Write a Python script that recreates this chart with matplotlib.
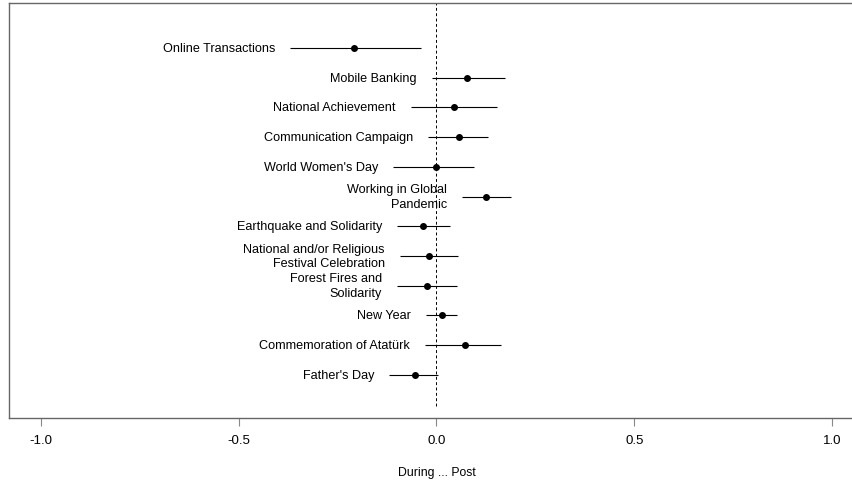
import matplotlib
matplotlib.use("Agg")
import matplotlib.pyplot as plt

plt.rcParams['font.family'] = ['Liberation Sans', 'DejaVu Sans']

# Estimates and 95% intervals, top row first
labels = [
    "Online Transactions",
    "Mobile Banking",
    "National Achievement",
    "Communication Campaign",
    "World Women's Day",
    "Working in Global\nPandemic",
    "Earthquake and Solidarity",
    "National and/or Religious\nFestival Celebration",
    "Forest Fires and\nSolidarity",
    "New Year",
    "Commemoration of Atatürk",
    "Father's Day",
]
estimate = [-0.208, 0.077, 0.043, 0.056, -0.002, 0.126, -0.033, -0.018, -0.023, 0.014, 0.071, -0.054]
lower = [-0.369, -0.012, -0.065, -0.022, -0.110, 0.064, -0.100, -0.093, -0.100, -0.026, -0.029, -0.119]
upper = [-0.039, 0.173, 0.152, 0.130, 0.096, 0.188, 0.033, 0.054, 0.052, 0.052, 0.163, 0.005]
xticks = [-1.0, -0.5, 0.0, 0.5, 1.0]
xtick_labels = ["-1.0", "-0.5", "0.0", "0.5", "1.0"]

W, H = 853, 480
fig = plt.figure(figsize=(W / 100, H / 100), dpi=100)
left_px, right_px, top_px, bottom_px = 9, 864, 3, 418
ax = fig.add_axes([left_px / W, (H - bottom_px) / H,
                   (right_px - left_px) / W, (bottom_px - top_px) / H])

n = len(labels)
ys = list(range(n, 0, -1))

ax.axvline(0, ymin=0.03, ymax=1.0, color='black', linestyle=(0, (3, 2.5)), linewidth=0.7)

for y, lab, est, lo, hi in zip(ys, labels, estimate, lower, upper):
    ax.hlines(y, lo, hi, color='black', linewidth=0.8)
    ax.plot(est, y, 'o', color='black', markersize=4.0)
    ax.annotate(lab, xy=(lo, y), xytext=(-15, -1), textcoords='offset pixels',
                ha='right', va='center', fontsize=9.1, linespacing=1.3,
                multialignment='right')

ax.set_xlim(-1.08, 1.08)
ax.set_ylim(-0.45, 13.51)
ax.set_yticks([])
ax.set_xticks(xticks)
ax.set_xticklabels(xtick_labels, fontsize=9.5)
ax.tick_params(axis='x', length=5.5, width=0.8, color='#888888', pad=7)
ax.set_xlabel("During ... Post", fontsize=8.8, labelpad=14)

for side in ['left', 'bottom', 'top']:
    ax.spines[side].set_color('#666666')
    ax.spines[side].set_linewidth(1.0)
ax.spines['right'].set_visible(False)

fig.savefig("out.png", dpi=100)
